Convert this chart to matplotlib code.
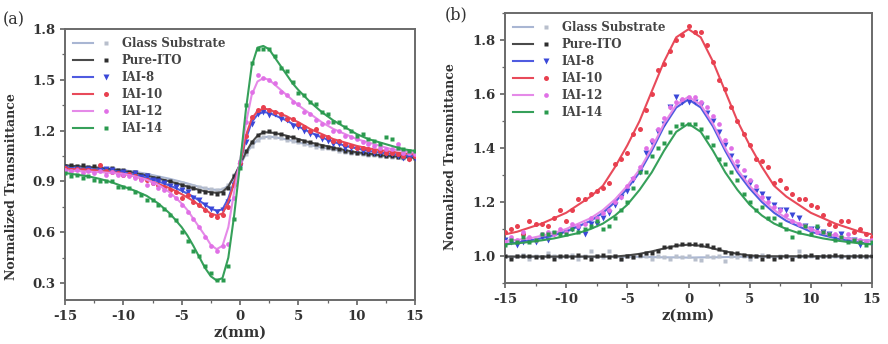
import numpy as np
import matplotlib
matplotlib.use("Agg")
import matplotlib.pyplot as plt
from matplotlib.legend_handler import HandlerTuple
from matplotlib.ticker import MultipleLocator

plt.rcParams['font.family'] = ['DejaVu Serif']
plt.rcParams['axes.unicode_minus'] = False

series_names = ["Glass Substrate", "Pure-ITO", "IAI-8", "IAI-10", "IAI-12", "IAI-14"]

# ---------------- panel (a): closed aperture ----------------
z_line_a = [-15, -14, -13, -12, -11, -10, -9, -8, -7, -6, -5, -4.5, -4, -3.5, -3, -2.5, -2, -1.5, -1, -0.5,
            0, 0.5, 1, 1.5, 2, 2.5, 3, 3.5, 4, 4.5, 5, 6, 7, 8, 9, 10, 11, 12, 13, 14, 15]
fit_a_glass = [0.995, 0.99, 0.985, 0.98, 0.975, 0.967, 0.957, 0.945, 0.93, 0.915, 0.897, 0.888, 0.878, 0.868,
               0.86, 0.853, 0.85, 0.853, 0.875, 0.93, 0.995, 1.06, 1.11, 1.145, 1.16, 1.165, 1.16, 1.155, 1.147,
               1.14, 1.13, 1.115, 1.10, 1.09, 1.075, 1.065, 1.058, 1.05, 1.045, 1.04, 1.037]
fit_a_ito = [0.995, 0.99, 0.985, 0.98, 0.972, 0.962, 0.95, 0.935, 0.917, 0.90, 0.88, 0.87, 0.86, 0.85, 0.842,
             0.836, 0.833, 0.838, 0.87, 0.93, 1.0, 1.07, 1.13, 1.17, 1.19, 1.19, 1.185, 1.178, 1.17, 1.16, 1.15,
             1.13, 1.115, 1.10, 1.085, 1.072, 1.065, 1.055, 1.05, 1.045, 1.04]
fit_a_iai8 = [0.98, 0.977, 0.973, 0.968, 0.962, 0.953, 0.94, 0.922, 0.90, 0.875, 0.845, 0.828, 0.81, 0.787,
              0.763, 0.74, 0.727, 0.735, 0.80, 0.90, 1.0, 1.15, 1.25, 1.295, 1.31, 1.305, 1.29, 1.275, 1.26, 1.24,
              1.225, 1.19, 1.16, 1.135, 1.11, 1.095, 1.08, 1.07, 1.062, 1.055, 1.05]
fit_a_iai10 = [0.975, 0.972, 0.968, 0.962, 0.955, 0.945, 0.93, 0.91, 0.885, 0.86, 0.825, 0.805, 0.785, 0.76,
               0.735, 0.71, 0.70, 0.71, 0.78, 0.89, 1.0, 1.17, 1.27, 1.315, 1.33, 1.325, 1.31, 1.298, 1.285,
               1.265, 1.25, 1.21, 1.18, 1.15, 1.13, 1.11, 1.095, 1.085, 1.075, 1.065, 1.06]
fit_a_iai12 = [0.965, 0.962, 0.958, 0.955, 0.95, 0.945, 0.93, 0.91, 0.88, 0.835, 0.77, 0.73, 0.68, 0.63, 0.58,
               0.525, 0.50, 0.52, 0.63, 0.84, 1.02, 1.24, 1.41, 1.49, 1.51, 1.50, 1.47, 1.44, 1.41, 1.38, 1.35,
               1.30, 1.25, 1.21, 1.18, 1.15, 1.13, 1.11, 1.09, 1.08, 1.07]
fit_a_iai14 = [0.95, 0.94, 0.93, 0.915, 0.895, 0.87, 0.845, 0.815, 0.77, 0.71, 0.63, 0.58, 0.52, 0.455, 0.39,
               0.34, 0.315, 0.33, 0.45, 0.70, 1.0, 1.32, 1.58, 1.69, 1.70, 1.68, 1.63, 1.58, 1.53, 1.48, 1.44,
               1.37, 1.31, 1.26, 1.22, 1.18, 1.15, 1.13, 1.11, 1.09, 1.08]

z_pts_a = [-15, -14.5, -14, -13.5, -13, -12.5, -12, -11.5, -11, -10.5, -10, -9.5, -9, -8.5, -8, -7.5, -7, -6.5,
           -6, -5.5, -5, -4.5, -4, -3.5, -3, -2.5, -2, -1.5, -1, -0.5, 0, 0.5, 1, 1.5, 2, 2.5, 3, 3.5, 4, 4.5,
           5, 5.5, 6, 6.5, 7, 7.5, 8, 8.5, 9, 9.5, 10, 10.5, 11, 11.5, 12, 12.5, 13, 13.5, 14, 14.5, 15]
pts_a_glass = [0.99, 0.985, 0.99, 0.98, 0.985, 0.975, 0.98, 0.97, 0.975, 0.965, 0.96, 0.955, 0.95, 0.94, 0.935,
               0.925, 0.92, 0.91, 0.905, 0.895, 0.89, 0.88, 0.875, 0.865, 0.86, 0.855, 0.85, 0.855, 0.88, 0.94,
               1.0, 1.06, 1.11, 1.145, 1.16, 1.165, 1.16, 1.155, 1.145, 1.14, 1.13, 1.12, 1.115, 1.105, 1.10,
               1.095, 1.09, 1.08, 1.075, 1.07, 1.065, 1.06, 1.058, 1.055, 1.05, 1.048, 1.045, 1.042, 1.04, 1.038,
               1.037]
pts_a_ito = [0.99, 0.995, 0.99, 0.995, 0.985, 0.99, 0.98, 0.975, 0.98, 0.965, 0.965, 0.955, 0.955, 0.94, 0.94,
             0.92, 0.92, 0.905, 0.90, 0.885, 0.88, 0.865, 0.86, 0.845, 0.84, 0.83, 0.825, 0.83, 0.86, 0.935,
             1.01, 1.08, 1.13, 1.175, 1.19, 1.195, 1.185, 1.18, 1.165, 1.16, 1.145, 1.14, 1.13, 1.12, 1.11,
             1.105, 1.10, 1.09, 1.08, 1.075, 1.07, 1.065, 1.06, 1.06, 1.055, 1.05, 1.05, 1.045, 1.045, 1.04, 1.04]
pts_a_iai8 = [0.98, 0.97, 0.975, 0.96, 0.975, 0.955, 0.97, 0.975, 0.97, 0.95, 0.955, 0.94, 0.95, 0.925, 0.935,
              0.91, 0.90, 0.89, 0.875, 0.87, 0.85, 0.835, 0.80, 0.79, 0.76, 0.74, 0.72, 0.73, 0.78, 0.88, 0.99,
              1.13, 1.24, 1.30, 1.31, 1.29, 1.30, 1.27, 1.26, 1.23, 1.22, 1.20, 1.18, 1.17, 1.15, 1.14, 1.12,
              1.12, 1.10, 1.10, 1.09, 1.08, 1.08, 1.07, 1.07, 1.06, 1.06, 1.05, 1.04, 1.03, 1.04]
pts_a_iai10 = [0.98, 0.97, 0.975, 0.965, 0.97, 0.96, 0.995, 0.96, 0.955, 0.95, 0.94, 0.945, 0.93, 0.915, 0.91,
               0.89, 0.88, 0.87, 0.85, 0.84, 0.80, 0.82, 0.78, 0.76, 0.73, 0.70, 0.69, 0.70, 0.75, 0.88, 1.01,
               1.17, 1.28, 1.32, 1.34, 1.32, 1.31, 1.30, 1.27, 1.27, 1.24, 1.22, 1.20, 1.21, 1.17, 1.16, 1.14,
               1.14, 1.12, 1.11, 1.10, 1.10, 1.09, 1.08, 1.08, 1.07, 1.07, 1.06, 1.05, 1.03, 1.05]
pts_a_iai12 = [0.97, 0.96, 0.965, 0.95, 0.96, 0.95, 0.96, 0.94, 0.955, 0.94, 0.94, 0.93, 0.92, 0.91, 0.88,
               0.89, 0.86, 0.85, 0.82, 0.80, 0.76, 0.72, 0.68, 0.63, 0.57, 0.52, 0.49, 0.52, 0.53, 0.80, 1.02,
               1.25, 1.43, 1.53, 1.51, 1.50, 1.48, 1.43, 1.41, 1.37, 1.36, 1.31, 1.30, 1.26, 1.24, 1.25, 1.20,
               1.20, 1.17, 1.16, 1.15, 1.13, 1.12, 1.11, 1.10, 1.09, 1.09, 1.12, 1.07, 1.07, 1.06]
pts_a_iai14 = [0.95, 0.93, 0.94, 0.92, 0.93, 0.91, 0.90, 0.905, 0.90, 0.87, 0.87, 0.86, 0.84, 0.82, 0.79,
               0.79, 0.76, 0.74, 0.70, 0.67, 0.60, 0.55, 0.49, 0.46, 0.40, 0.36, 0.32, 0.32, 0.40, 0.68, 0.98,
               1.35, 1.60, 1.68, 1.68, 1.68, 1.64, 1.57, 1.55, 1.49, 1.42, 1.41, 1.37, 1.36, 1.31, 1.30, 1.25,
               1.25, 1.22, 1.20, 1.17, 1.18, 1.15, 1.14, 1.12, 1.16, 1.15, 1.10, 1.09, 1.08, 1.08]

# ---------------- panel (b): open aperture ----------------
z_line_b = list(range(-15, 16))
fit_b_glass = [0.997] * 12 + [0.996, 0.995, 0.995, 0.994, 0.995, 0.995, 0.996] + [0.997] * 12
fit_b_ito = [0.998] * 10 + [1.002, 1.008, 1.017, 1.028, 1.038, 1.042, 1.038, 1.028, 1.017, 1.008, 1.002] + [0.999] * 10
fit_b_iai8 = [1.044, 1.05, 1.057, 1.066, 1.077, 1.09, 1.11, 1.13, 1.16, 1.20, 1.25, 1.31, 1.39, 1.48, 1.55,
              1.58, 1.55, 1.48, 1.39, 1.31, 1.25, 1.20, 1.16, 1.13, 1.11, 1.09, 1.077, 1.066, 1.057, 1.05, 1.044]
fit_b_iai10 = [1.08, 1.09, 1.105, 1.12, 1.14, 1.16, 1.19, 1.22, 1.26, 1.33, 1.41, 1.50, 1.61, 1.72, 1.81,
               1.84, 1.81, 1.72, 1.61, 1.50, 1.41, 1.33, 1.26, 1.22, 1.19, 1.16, 1.14, 1.12, 1.105, 1.09, 1.08]
fit_b_iai12 = [1.055, 1.06, 1.065, 1.075, 1.085, 1.10, 1.12, 1.14, 1.17, 1.21, 1.26, 1.32, 1.40, 1.49, 1.56,
               1.59, 1.56, 1.49, 1.40, 1.32, 1.26, 1.21, 1.17, 1.14, 1.12, 1.10, 1.085, 1.075, 1.065, 1.06, 1.055]
fit_b_iai14 = [1.043, 1.047, 1.052, 1.058, 1.065, 1.075, 1.085, 1.10, 1.12, 1.15, 1.19, 1.245, 1.31, 1.39, 1.46,
               1.49, 1.46, 1.39, 1.31, 1.245, 1.19, 1.15, 1.12, 1.10, 1.085, 1.075, 1.065, 1.058, 1.052, 1.047, 1.043]

z_pts_b = z_pts_a
pts_b_glass = [1.0, 0.995, 1.0, 1.005, 0.99, 1.0, 0.995, 1.01, 1.0, 0.995, 1.0, 1.005, 0.99, 1.0, 1.02, 1.0,
               0.995, 1.02, 1.0, 0.99, 1.0, 0.995, 1.0, 1.0, 0.99, 1.0, 0.995, 0.99, 1.0, 0.995, 1.0, 0.99, 0.985,
               1.0, 0.995, 1.0, 0.98, 1.0, 0.995, 1.0, 0.99, 1.0, 1.005, 1.0, 0.995, 1.0, 1.0, 0.995, 1.02, 1.0,
               1.0, 0.995, 1.0, 1.0, 1.0, 0.995, 1.0, 1.0, 1.0, 0.995, 1.0]
pts_b_ito = [1.0, 0.99, 1.0, 1.0, 1.0, 0.995, 0.995, 1.0, 0.99, 1.0, 1.0, 0.995, 1.005, 0.995, 0.99, 1.0, 1.005,
             0.995, 1.0, 0.99, 1.0, 0.995, 1.005, 1.01, 1.01, 1.02, 1.035, 1.035, 1.04, 1.045, 1.045, 1.045,
             1.04, 1.04, 1.035, 1.025, 1.015, 1.01, 1.01, 1.005, 1.0, 1.0, 0.99, 1.0, 0.99, 0.995, 1.0, 0.99,
             1.0, 1.0, 1.005, 0.995, 1.0, 1.0, 1.005, 1.0, 0.995, 1.0, 1.0, 1.0, 1.0]
pts_b_iai8 = [1.06, 1.05, 1.04, 1.05, 1.06, 1.05, 1.07, 1.06, 1.08, 1.08, 1.09, 1.10, 1.10, 1.08, 1.12, 1.12,
              1.14, 1.16, 1.19, 1.22, 1.24, 1.28, 1.31, 1.38, 1.42, 1.46, 1.49, 1.55, 1.59, 1.57, 1.57, 1.57,
              1.56, 1.53, 1.50, 1.46, 1.41, 1.37, 1.33, 1.29, 1.27, 1.24, 1.23, 1.21, 1.19, 1.17, 1.17, 1.15,
              1.14, 1.11, 1.10, 1.10, 1.09, 1.08, 1.07, 1.08, 1.06, 1.06, 1.04, 1.05, 1.05]
pts_b_iai10 = [1.09, 1.10, 1.11, 1.08, 1.13, 1.12, 1.12, 1.11, 1.14, 1.17, 1.13, 1.17, 1.21, 1.21, 1.23, 1.24,
               1.25, 1.27, 1.34, 1.36, 1.38, 1.45, 1.47, 1.54, 1.60, 1.69, 1.71, 1.76, 1.80, 1.82, 1.85, 1.83,
               1.83, 1.78, 1.72, 1.65, 1.62, 1.55, 1.50, 1.45, 1.41, 1.36, 1.35, 1.33, 1.27, 1.28, 1.25, 1.23,
               1.21, 1.21, 1.19, 1.18, 1.15, 1.12, 1.11, 1.13, 1.13, 1.09, 1.10, 1.08, 1.07]
pts_b_iai12 = [1.05, 1.07, 1.06, 1.09, 1.07, 1.06, 1.08, 1.09, 1.08, 1.10, 1.09, 1.12, 1.11, 1.12, 1.14, 1.14,
               1.16, 1.17, 1.20, 1.22, 1.26, 1.29, 1.33, 1.40, 1.43, 1.47, 1.51, 1.55, 1.57, 1.58, 1.59, 1.59,
               1.57, 1.55, 1.52, 1.49, 1.43, 1.40, 1.35, 1.32, 1.28, 1.26, 1.22, 1.20, 1.18, 1.17, 1.15, 1.13,
               1.12, 1.11, 1.10, 1.09, 1.09, 1.08, 1.08, 1.07, 1.08, 1.06, 1.06, 1.05, 1.06]
pts_b_iai14 = [1.04, 1.06, 1.05, 1.07, 1.05, 1.06, 1.08, 1.08, 1.09, 1.08, 1.08, 1.10, 1.09, 1.10, 1.11, 1.13,
               1.10, 1.11, 1.14, 1.17, 1.20, 1.25, 1.31, 1.31, 1.37, 1.40, 1.42, 1.46, 1.48, 1.49, 1.49, 1.49,
               1.47, 1.44, 1.41, 1.36, 1.34, 1.31, 1.28, 1.23, 1.20, 1.17, 1.18, 1.14, 1.14, 1.12, 1.10, 1.07,
               1.09, 1.11, 1.08, 1.11, 1.09, 1.08, 1.06, 1.07, 1.05, 1.06, 1.05, 1.04, 1.05]

line_colors = ["#a9b6d3", "#4a4a4a", "#4f5be0", "#e84a5a", "#e58ae8", "#36a05a"]
pt_colors = ["#b8bfcc", "#2e2e2e", "#3a48d8", "#e8404f", "#e070e6", "#2a9a4e"]
markers = ["s", "s", "v", "o", "o", "s"]
msizes = [2.2, 3.2, 4.0, 3.6, 3.4, 3.4]

fig = plt.figure(figsize=(8.88, 3.44), dpi=100)
ax_a = fig.add_axes([65 / 888, 1 - 300 / 344, 350 / 888, 271 / 344])
ax_b = fig.add_axes([505 / 888, 1 - 283 / 344, 367 / 888, 270 / 344])

fits_a = [fit_a_glass, fit_a_ito, fit_a_iai8, fit_a_iai10, fit_a_iai12, fit_a_iai14]
pts_a = [pts_a_glass, pts_a_ito, pts_a_iai8, pts_a_iai10, pts_a_iai12, pts_a_iai14]
fits_b = [fit_b_glass, fit_b_ito, fit_b_iai8, fit_b_iai10, fit_b_iai12, fit_b_iai14]
pts_b = [pts_b_glass, pts_b_ito, pts_b_iai8, pts_b_iai10, pts_b_iai12, pts_b_iai14]

label_font = dict(family='DejaVu Serif', weight='bold')


def draw(ax, zl, fits, zp, pts):
    handles = []
    for i in range(6):
        ln, = ax.plot(zl, fits[i], color=line_colors[i], lw=1.5, zorder=2 + i)
        mk, = ax.plot(zp, pts[i], ls='none', marker=markers[i], ms=msizes[i],
                      color=pt_colors[i], mec='none', zorder=3 + i)
        handles.append((ln, mk))
    ax.set_xlim(-15, 15)
    ax.xaxis.set_major_locator(MultipleLocator(5))
    ax.xaxis.set_minor_locator(MultipleLocator(2.5))
    for sp in ax.spines.values():
        sp.set_color('#6a6a6a')
        sp.set_linewidth(1.4)
    ax.tick_params(which='major', direction='out', length=3.5, width=1.1, colors='#555555',
                   labelcolor='#333333', labelsize=9.5)
    ax.tick_params(which='minor', direction='out', length=2, width=0.9, colors='#666666')
    ax.set_xlabel('z(mm)', fontsize=10.5, labelpad=2, color='#333333', **label_font)
    ax.set_ylabel('Normalized Transmittance', fontsize=9, color='#333333', **label_font)
    leg = ax.legend(handles, series_names, handler_map={tuple: HandlerTuple(ndivide=None, pad=0.3)},
                    loc='upper left', frameon=False, handlelength=3.6, handletextpad=0.5,
                    labelspacing=0.33, borderaxespad=0.3,
                    prop=dict(family='DejaVu Serif', weight='bold', size=8.5))
    for t in leg.get_texts():
        t.set_color('#444444')
    return leg


draw(ax_a, z_line_a, fits_a, z_pts_a, pts_a)
ax_a.set_ylim(0.2, 1.8)
ax_a.set_yticks([0.3, 0.6, 0.9, 1.2, 1.5, 1.8])
ax_a.yaxis.set_minor_locator(MultipleLocator(0.15))
ax_a.yaxis.set_label_coords(-0.135, 0.42)

draw(ax_b, z_line_b, fits_b, z_pts_b, pts_b)
ax_b.set_ylim(0.9, 1.9)
ax_b.set_yticks([1.0, 1.2, 1.4, 1.6, 1.8])
ax_b.yaxis.set_minor_locator(MultipleLocator(0.1))
ax_b.yaxis.set_label_coords(-0.13, 0.47)

for ax in (ax_a, ax_b):
    for lab in ax.get_xticklabels() + ax.get_yticklabels():
        lab.set_fontweight('bold')

fig.text(3 / 888, 1 - 20 / 344, '(a)', fontsize=11.5, family='DejaVu Serif', color='#333333', va='center')
fig.text(445 / 888, 1 - 15 / 344, '(b)', fontsize=11.5, family='DejaVu Serif', color='#333333', va='center')

fig.savefig('out.png', dpi=100)
